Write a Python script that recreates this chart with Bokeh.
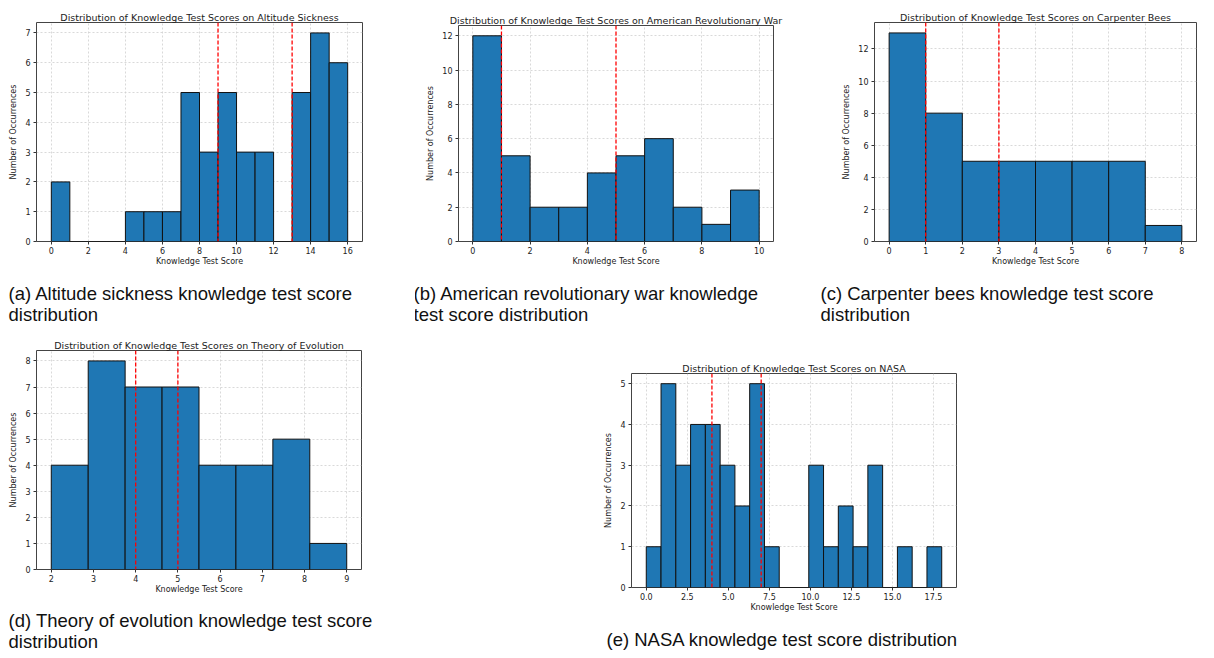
import numpy as np
from bokeh.plotting import figure
from bokeh.models import Span, Title, SingleIntervalTicker, PrintfTickFormatter, Spacer
from bokeh.layouts import column, row
from bokeh.embed import file_html
from bokeh.resources import INLINE

# Histogram counts per bin, with the bin range used for each panel
altitude_counts = [2, 0, 0, 0, 1, 1, 1, 5, 3, 5, 3, 3, 0, 5, 7, 6]
altitude_range = (0, 16)
altitude_marks = [9, 13]

revwar_counts = [12, 5, 2, 2, 4, 5, 6, 2, 1, 3]
revwar_range = (0, 10)
revwar_marks = [1, 5]

bees_counts = [13, 8, 5, 5, 5, 5, 5, 1]
bees_range = (0, 8)
bees_marks = [1, 3]

evolution_counts = [4, 8, 7, 7, 4, 4, 5, 1]
evolution_range = (2, 9)
evolution_marks = [4, 5]

nasa_counts = [1, 5, 3, 4, 4, 3, 2, 5, 1, 0, 0, 3, 1, 2, 1, 3, 0, 1, 0, 1]
nasa_range = (0, 18)
nasa_marks = [4, 7]

BAR = "#1f77b4"
TICK_FONT = "DejaVu Sans"
CAP_FONT = "Liberation Sans"
TOP = 14


def hist_panel(title, counts, rng, marks, xstep, ystep, width, frame_h, shift,
               sides, bottom, caption, cap_offset, cap_standoff, xfmt=None):
    lo, hi = rng
    edges = np.linspace(lo, hi, len(counts) + 1)
    pad = (hi - lo) * 0.05
    ymax = max(counts) * 1.05
    left, right = sides
    height = TOP + frame_h + bottom
    p = figure(width=width, height=height,
               min_border_left=left, min_border_top=TOP,
               min_border_right=right, min_border_bottom=bottom,
               x_range=(lo - pad, hi + pad), y_range=(0, ymax),
               output_backend="svg", toolbar_location=None)
    p.title.text = title
    p.title.align = "center"
    p.title.text_font = TICK_FONT
    p.title.text_font_size = "9.5px"
    p.title.text_font_style = "normal"
    p.title.text_color = "#222222"
    p.title.standoff = 0
    p.title.text_line_height = 1.0

    p.quad(left=edges[:-1], right=edges[1:], bottom=0, top=counts,
           fill_color=BAR, line_color="#111111", line_width=1)

    for m in marks:
        p.add_layout(Span(location=m, dimension="height", line_color="red",
                          line_dash="4 2", line_width=1.3))

    p.xaxis.ticker = SingleIntervalTicker(interval=xstep)
    p.yaxis.ticker = SingleIntervalTicker(interval=ystep)
    if xfmt:
        p.xaxis.formatter = PrintfTickFormatter(format=xfmt)
    p.xaxis.axis_label = "Knowledge Test Score"
    p.yaxis.axis_label = "Number of Occurrences"
    for ax in (p.xaxis, p.yaxis):
        ax.axis_label_text_font = TICK_FONT
        ax.axis_label_text_font_size = "8px"
        ax.axis_label_text_font_style = "normal"
        ax.axis_label_text_color = "#222222"
        ax.major_label_text_font = TICK_FONT
        ax.major_label_text_font_size = "8px"
        ax.major_label_text_color = "#222222"
        ax.major_tick_out = 3
        ax.major_tick_in = 0
        ax.major_tick_line_color = "#333333"
        ax.minor_tick_line_color = None
        ax.axis_line_color = None
    p.xaxis.axis_label_standoff = 0
    p.xaxis.major_label_standoff = 1
    p.yaxis.axis_label_standoff = 4
    p.yaxis.major_label_standoff = 2
    p.grid.grid_line_color = "#cfcfcf"
    p.grid.grid_line_dash = "2 2"
    p.grid.grid_line_width = 0.8
    p.outline_line_color = "#444444"
    p.outline_line_width = 1
    p.background_fill_color = "white"
    p.border_fill_color = "white"

    p.add_layout(Title(text=caption, align="left", offset=cap_offset,
                       standoff=cap_standoff, text_font=CAP_FONT,
                       text_font_size="18.5px", text_font_style="normal",
                       text_line_height=1.0, text_color="#111111"), "below")
    if shift:
        return column(Spacer(width=width, height=shift), p)
    return p


pa = hist_panel("Distribution of Knowledge Test Scores on Altitude Sickness",
                altitude_counts, altitude_range, altitude_marks, 2, 1,
                415, 219, 8, (36, 53), 95,
                "(a) Altitude sickness knowledge test score\ndistribution", -28, 24)
pb = hist_panel("Distribution of Knowledge Test Scores on American Revolutionary War",
                revwar_counts, revwar_range, revwar_marks, 2, 2,
                405, 216, 11, (43, 47), 95,
                "(b) American revolutionary war knowledge\ntest score distribution", -45, 24)
pc = hist_panel("Distribution of Knowledge Test Scores on Carpenter Bees",
                bees_counts, bees_range, bees_marks, 1, 2,
                394, 219, 8, (54, 18), 95,
                "(c) Carpenter bees knowledge test score\ndistribution", -54, 24)
pd_ = hist_panel("Distribution of Knowledge Test Scores on Theory of Evolution",
                 evolution_counts, evolution_range, evolution_marks, 1, 1,
                 415, 219, 0, (36, 54), 93,
                 "(d) Theory of evolution knowledge test score\ndistribution", -28, 22)
pe = hist_panel("Distribution of Knowledge Test Scores on NASA",
                nasa_counts, nasa_range, nasa_marks, 2.5, 1,
                634, 216, 23, (51, 258), 73,
                "(e) NASA knowledge test score distribution", -25, 25, xfmt="%.1f")

layout = column(row(pa, pb, pc), row(pd_, Spacer(width=165, height=10), pe))
layout.styles = {"background-color": "white"}

open("out.html", "w").write(file_html(layout, INLINE))
